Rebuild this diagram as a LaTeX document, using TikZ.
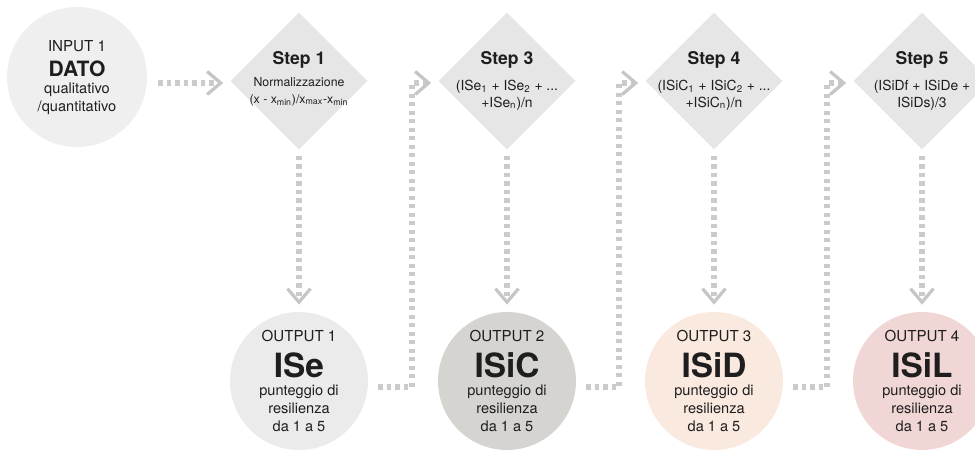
\documentclass[tikz,border=0pt]{standalone}
\usepackage{fontspec}
\setmainfont{TeX Gyre Heros}
\usepackage{tikz}
\usetikzlibrary{shapes.geometric, arrows.meta, calc}

\definecolor{infill}{HTML}{EFEFEF}
\definecolor{stepgray}{HTML}{E6E6E6}
\definecolor{outA}{HTML}{EBEBEB}
\definecolor{outB}{HTML}{D5D4D0}
\definecolor{outC}{HTML}{FAE9DF}
\definecolor{outD}{HTML}{F0D6D5}
\definecolor{dotgray}{HTML}{CBCBCB}
\definecolor{chevgray}{HTML}{C6C6C6}
\definecolor{txtcol}{HTML}{1E1E1E}

\tikzset{
	stepbox/.style={diamond, fill=stepgray, minimum width=27.4mm, minimum height=27.4mm, inner sep=0pt},
	roundbox/.style={circle, minimum size=27.6mm, inner sep=0pt},
	dots/.style={draw=dotgray, line width=1.3mm, dash pattern=on 0.85mm off 0.85mm,
		-{Straight Barb[length=2.7mm, width=4.6mm, line width=0.65mm, color=chevgray]}},
	txt/.style={align=center, text=txtcol, inner sep=0pt},
	steptitle/.style={txt, anchor=base, font=\fontsize{10}{11}\selectfont\bfseries},
	formula/.style={txt, anchor=north, font=\fontsize{7.9}{9.4}\selectfont},
	outtitle/.style={txt, anchor=base, font=\fontsize{8.6}{10}\selectfont},
	outname/.style={txt, anchor=base, font=\fontsize{19}{22}\selectfont\bfseries},
	outsub/.style={txt, anchor=north, font=\fontsize{8.3}{10.2}\selectfont},
}

\begin{document}
\begin{tikzpicture}[x=0.2mm, y=-0.2mm]

		% Column and row positions (pixels, y downwards)
		\def\xI{77}
		\def\xA{299}
		\def\xB{507}
		\def\xC{714}
		\def\xD{922}

		\def\yI{77}
		\def\yS{81}
		\def\yO{381}

		\clip (0,0) rectangle (975,450);

		% --- Input ---
		\node[roundbox, fill=infill, minimum size=28mm] (in1) at (\xI, \yI) {};
		\node[outtitle] (in1a) at ($(in1)+(0,-25)$) {INPUT 1};
		\node[txt, anchor=base, font=\fontsize{12}{14}\selectfont\bfseries] (in1b) at (in1) {DATO};
		\node[outsub, font=\fontsize{8.3}{10.2}\selectfont] (in1c) at ($(in1)+(0,6)$) {qualitativo\\/quantitativo};

		% --- Steps ---
		\node[stepbox] (st1) at (\xA, \yS) {};
		\node[steptitle] (st1a) at ($(st1)+(0,-16)$) {Step 1};
		\node[formula, font=\fontsize{7}{9.6}\selectfont] (st1b) at ($(st1)+(0,-4)$) {Normalizzazione\\(x - x\textsubscript{min})/x\textsubscript{max}-x\textsubscript{min}};

		\node[stepbox] (st3) at (\xB, \yS) {};
		\node[steptitle] (st3a) at ($(st3)+(0,-16)$) {Step 3};
		\node[formula] (st3b) at ($(st3)+(0,-1)$) {(ISe\textsubscript{1} + ISe\textsubscript{2} + ...\\+ISe\textsubscript{n})/n};

		\node[stepbox] (st4) at (\xC, \yS) {};
		\node[steptitle] (st4a) at ($(st4)+(0,-16)$) {Step 4};
		\node[formula] (st4b) at ($(st4)+(0,-1)$) {(ISiC\textsubscript{1} + ISiC\textsubscript{2} + ...\\+ISiC\textsubscript{n})/n};

		\node[stepbox] (st5) at (\xD, \yS) {};
		\node[steptitle] (st5a) at ($(st5)+(0,-16)$) {Step 5};
		\node[formula] (st5b) at ($(st5)+(0,-1)$) {(ISiDf + ISiDe +\\ISiDs)/3};

		% --- Outputs ---
		\node[roundbox, fill=outA] (out1) at (\xA, \yO) {};
		\node[outtitle] (out1a) at ($(out1)+(0,-39)$) {OUTPUT 1};
		\node[outname] (out1b) at ($(out1)+(0,-3)$) {ISe};
		\node[outsub] (out1c) at ($(out1)+(0,4)$) {punteggio di\\resilienza\\da 1 a 5};

		\node[roundbox, fill=outB] (out2) at (\xB, \yO) {};
		\node[outtitle] (out2a) at ($(out2)+(0,-39)$) {OUTPUT 2};
		\node[outname] (out2b) at ($(out2)+(0,-3)$) {ISiC};
		\node[outsub] (out2c) at ($(out2)+(0,4)$) {punteggio di\\resilienza\\da 1 a 5};

		\node[roundbox, fill=outC] (out3) at (\xC, \yO) {};
		\node[outtitle] (out3a) at ($(out3)+(0,-39)$) {OUTPUT 3};
		\node[outname] (out3b) at ($(out3)+(0,-3)$) {ISiD};
		\node[outsub] (out3c) at ($(out3)+(0,4)$) {punteggio di\\resilienza\\da 1 a 5};

		\node[roundbox, fill=outD] (out4) at (\xD, \yO) {};
		\node[outtitle] (out4a) at ($(out4)+(0,-39)$) {OUTPUT 4};
		\node[outname] (out4b) at ($(out4)+(0,-3)$) {ISiL};
		\node[outsub] (out4c) at ($(out4)+(0,4)$) {punteggio di\\resilienza\\da 1 a 5};

		% --- Connectors ---
		\draw[dots] ($(in1.east)+(11,6)$) -- ($(st1.west)+(-7,2)$);

		\draw[dots] ($(st1.south)+(0,6)$) -- ($(out1.north)+(0,-7)$);
		\draw[dots] ($(st3.south)+(0,6)$) -- ($(out2.north)+(0,-7)$);
		\draw[dots] ($(st4.south)+(0,6)$) -- ($(out3.north)+(0,-7)$);
		\draw[dots] ($(st5.south)+(0,6)$) -- ($(out4.north)+(0,-7)$);

		\draw[dots] ($(out1.east)+(10,6)$) -| ($(st3.west)+(-26,2)$) -- ($(st3.west)+(-7,2)$);
		\draw[dots] ($(out2.east)+(10,6)$) -| ($(st4.west)+(-26,2)$) -- ($(st4.west)+(-7,2)$);
		\draw[dots] ($(out3.east)+(10,6)$) -| ($(st5.west)+(-26,2)$) -- ($(st5.west)+(-7,2)$);

	\end{tikzpicture}
\end{document}
